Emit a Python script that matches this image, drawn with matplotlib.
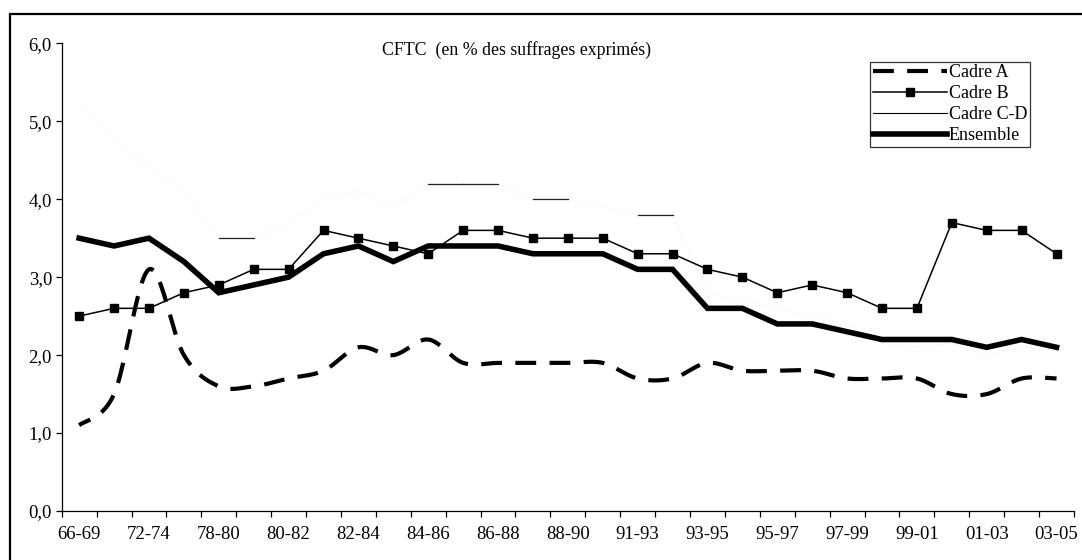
import numpy as np
import matplotlib
matplotlib.use("Agg")
import matplotlib.pyplot as plt
from matplotlib.lines import Line2D
from matplotlib.patches import Rectangle

plt.rcParams['font.family'] = ['Liberation Serif', 'DejaVu Serif']

# ---- data ----
tick_labels = ["66-69", "72-74", "78-80", "80-82", "82-84", "84-86", "86-88",
               "88-90", "91-93", "93-95", "95-97", "97-99", "99-01", "01-03", "03-05"]
n_periods = 29  # one period between each labelled one

cadre_a = [1.1, 1.5, 3.1, 2.0, 1.6, 1.6, 1.7, 1.8, 2.1, 2.0, 2.2, 1.9, 1.9, 1.9, 1.9,
           1.9, 1.7, 1.7, 1.9, 1.8, 1.8, 1.8, 1.7, 1.7, 1.7, 1.5, 1.5, 1.7, 1.7]
cadre_b = [2.5, 2.6, 2.6, 2.8, 2.9, 3.1, 3.1, 3.6, 3.5, 3.4, 3.3, 3.6, 3.6, 3.5, 3.5,
           3.5, 3.3, 3.3, 3.1, 3.0, 2.8, 2.9, 2.8, 2.6, 2.6, 3.7, 3.6, 3.6, 3.3]
cadre_cd = [5.2, 4.8, 4.4, 4.1, 3.5, 3.5, 3.7, 4.0, 4.1, 3.9, 4.2, 4.2, 4.2, 4.0, 4.0,
            3.9, 3.8, 3.8, 2.8, 2.7, 2.6, 2.5, 2.4, 2.15, 2.1, 2.15, 2.0, 2.1, 2.05]
ensemble = [3.5, 3.4, 3.5, 3.2, 2.8, 2.9, 3.0, 3.3, 3.4, 3.2, 3.4, 3.4, 3.4, 3.3, 3.3,
            3.3, 3.1, 3.1, 2.6, 2.6, 2.4, 2.4, 2.3, 2.2, 2.2, 2.2, 2.1, 2.2, 2.1]

title = "CFTC  (en % des suffrages exprimés)"


def smooth(x, y, n=24):
    """Excel-like smoothed line (Catmull-Rom / Bezier) through the points."""
    x = np.asarray(x, float)
    y = np.asarray(y, float)
    P = np.column_stack([x, y])
    Pp = np.vstack([P[0], P, P[-1]])
    out = []
    t = np.linspace(0, 1, n)[:, None]
    for i in range(len(P) - 1):
        p0, p1, p2, p3 = Pp[i], Pp[i + 1], Pp[i + 2], Pp[i + 3]
        c1 = p1 + (p2 - p0) / 6.0
        c2 = p2 - (p3 - p1) / 6.0
        seg = ((1 - t) ** 3) * p1 + 3 * ((1 - t) ** 2) * t * c1 + 3 * (1 - t) * t ** 2 * c2 + t ** 3 * p2
        out.append(seg if i == 0 else seg[1:])
    out = np.vstack(out)
    return out[:, 0], out[:, 1]


W, H = 1082, 560
fig = plt.figure(figsize=(W / 100, H / 100), dpi=100)
ax = fig.add_axes([61.7 / W, (H - 511) / H, (1074 - 61.7) / W, (511 - 43.3) / H])

x = np.arange(n_periods)

# Cadre A (dashed, smoothed)
sx, sy = smooth(x, cadre_a)
ax.plot(sx, sy, color='black', lw=3.0, linestyle=(2, (5, 3.2)), solid_capstyle='butt',
        dash_capstyle='butt', zorder=3)

# Cadre B
ax.plot(x, cadre_b, color='black', lw=1.1, marker='s', markersize=5.5, zorder=4)

# Cadre C-D : very faint hairline, flat parts render dark
ax.plot(x, cadre_cd, color='#f6f6f6', lw=0.5, zorder=2)
cd = np.asarray(cadre_cd)
for i in range(n_periods - 1):
    if cd[i] == cd[i + 1]:
        ax.plot([x[i], x[i + 1]], [cd[i], cd[i + 1]], color='#222222', lw=0.9, zorder=2)

# Ensemble
ax.plot(x, ensemble, color='black', lw=4.0, solid_joinstyle='miter', zorder=5)

# axes styling
ax.set_xlim(-0.5, n_periods - 0.5)
ax.set_ylim(0, 6)
for s in ['top', 'right']:
    ax.spines[s].set_visible(False)
for s in ['left', 'bottom']:
    ax.spines[s].set_linewidth(0.9)

ax.set_yticks(np.arange(0, 7, 1))
ax.set_yticklabels([f"{v:.1f}".replace('.', ',') for v in range(0, 7)])
ax.tick_params(axis='y', direction='out', length=4, width=0.9, labelsize=13.5, pad=3)

ax.set_xticks(np.arange(-0.5, n_periods, 1))
ax.set_xticklabels([])
ax.tick_params(axis='x', which='major', direction='out', length=4, width=0.9)
ax.set_xticks(np.arange(0, n_periods, 2), minor=True)
ax.set_xticklabels(tick_labels, minor=True)
ax.tick_params(axis='x', which='minor', length=0, labelsize=13.5, pad=11)

# title inside plot
fig.text(516 / W, 1 - 50 / H, title, ha='center', va='center', fontsize=12.8)

# legend
handles = [
    Line2D([], [], color='black', lw=3.0, linestyle=(0, (5, 3.2)), dash_capstyle='butt'),
    Line2D([], [], color='black', lw=1.1, marker='s', markersize=5.5),
    Line2D([], [], color='black', lw=0.8),
    Line2D([], [], color='black', lw=4.0),
]
leg = ax.legend(handles, ["Cadre A", "Cadre B", "Cadre C-D", "Ensemble"],
                loc='upper left', bbox_to_anchor=(870 / W, 1 - 61.7 / H),
                bbox_transform=fig.transFigure, borderaxespad=0, fontsize=13,
                frameon=True, fancybox=False, shadow=False, numpoints=1,
                handlelength=4.1, handletextpad=0.12, labelspacing=0.22,
                borderpad=0.15)
leg.get_frame().set_edgecolor('black')
leg.get_frame().set_linewidth(0.9)

# outer frame
fig.patches.append(Rectangle((10 / W, -0.1), 1.2, 1 - 14 / H + 0.1, transform=fig.transFigure,
                             fill=False, edgecolor='black', lw=1.6))

fig.savefig("out.png", dpi=100)
